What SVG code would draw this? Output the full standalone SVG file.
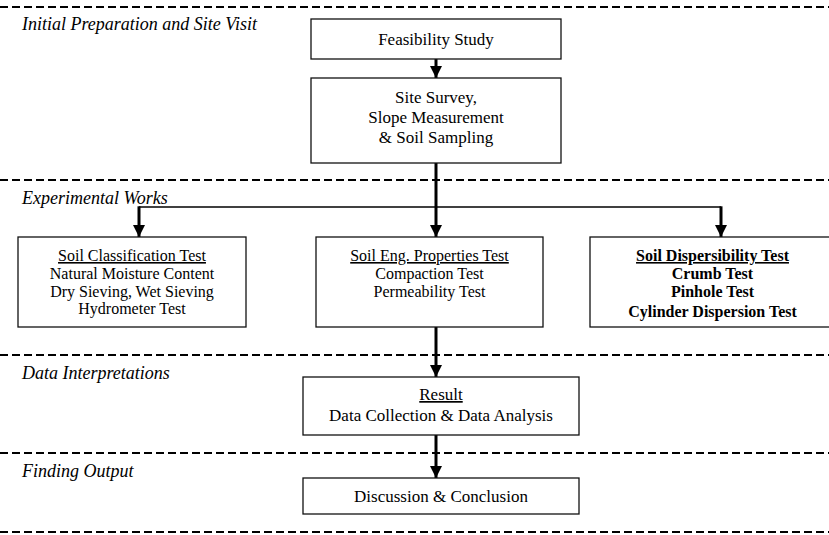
<svg xmlns="http://www.w3.org/2000/svg" width="829" height="535" viewBox="0 0 829 535">
<style>
.box{fill:#fff;stroke:#111;stroke-width:1.3}
.t{font-family:"Liberation Serif","Times New Roman",serif;font-size:16px;fill:#000;text-anchor:middle}
.t17{font-size:17px}
.b{font-weight:bold}
.u{text-decoration:underline}
.sec{font-family:"Liberation Serif","Times New Roman",serif;font-size:18px;font-style:italic;fill:#000}
.dash{stroke:#000;stroke-width:2.2;stroke-dasharray:8 4;fill:none}
.arr{stroke:#000;stroke-width:3;fill:none;marker-end:url(#ah)}
.thin{stroke:#000;stroke-width:1.4;fill:none}
</style>
<defs>
<marker id="ah" viewBox="0 0 12 12" refX="12" refY="6" markerWidth="12" markerHeight="12" markerUnits="userSpaceOnUse" orient="auto">
<path d="M0,0 L12,6 L0,12 Z" fill="#000"/>
</marker>
</defs>
<rect width="829" height="535" fill="#fff"/>
<g id="sections">
<line class="dash" x1="0" y1="7" x2="829" y2="7"/>
<line class="dash" x1="0" y1="180" x2="829" y2="180"/>
<line class="dash" x1="0" y1="355" x2="829" y2="355"/>
<line class="dash" x1="0" y1="453" x2="829" y2="453"/>
<line class="dash" x1="0" y1="532" x2="829" y2="532"/>
<text class="sec" x="22" y="30">Initial Preparation and Site Visit</text>
<text class="sec" x="22" y="204">Experimental Works</text>
<text class="sec" x="22" y="379">Data Interpretations</text>
<text class="sec" x="22" y="477">Finding Output</text>
</g>
<g id="connectors">
<line class="arr" x1="436" y1="59" x2="436" y2="78"/>
<line class="arr" x1="436" y1="163" x2="436" y2="237"/>
<line class="thin" x1="139" y1="207" x2="721" y2="207"/>
<line class="arr" x1="139" y1="206.3" x2="139" y2="237"/>
<line class="arr" x1="721" y1="206.3" x2="721" y2="237"/>
<line class="arr" x1="436" y1="327" x2="436" y2="377"/>
<line class="arr" x1="436" y1="435" x2="436" y2="478"/>
</g>
<g id="feasibility">
<rect class="box" x="311" y="19" width="250" height="40"/>
<text class="t t17" x="436" y="45">Feasibility Study</text>
</g>
<g id="site-survey">
<rect class="box" x="311" y="78" width="250" height="85"/>
<text class="t t17" x="436" y="103">Site Survey,</text>
<text class="t t17" x="436" y="123">Slope Measurement</text>
<text class="t t17" x="436" y="143">&amp; Soil Sampling</text>
</g>
<g id="soil-classification">
<rect class="box" x="18" y="237" width="228" height="90"/>
<text class="t u" x="132" y="261">Soil Classification Test</text>
<text class="t" x="132" y="279">Natural Moisture Content</text>
<text class="t" x="132" y="297">Dry Sieving, Wet Sieving</text>
<text class="t" x="132" y="314">Hydrometer Test</text>
</g>
<g id="soil-eng">
<rect class="box" x="316" y="237" width="227" height="90"/>
<text class="t u" x="429.5" y="261">Soil Eng. Properties Test</text>
<text class="t" x="429.5" y="279">Compaction Test</text>
<text class="t" x="429.5" y="297">Permeability Test</text>
</g>
<g id="soil-dispersibility">
<rect class="box" x="590" y="237" width="245" height="90"/>
<text class="t b u" x="712.5" y="261">Soil Dispersibility Test</text>
<text class="t b" x="712.5" y="279">Crumb Test</text>
<text class="t b" x="712.5" y="297">Pinhole Test</text>
<text class="t b" x="712.5" y="317">Cylinder Dispersion Test</text>
</g>
<g id="result">
<rect class="box" x="303" y="377" width="276" height="58"/>
<text class="t t17 u" x="441" y="400">Result</text>
<text class="t t17" x="441" y="421">Data Collection &amp; Data Analysis</text>
</g>
<g id="discussion">
<rect class="box" x="303" y="478" width="276" height="36"/>
<text class="t t17" x="441" y="502">Discussion &amp; Conclusion</text>
</g>
</svg>
